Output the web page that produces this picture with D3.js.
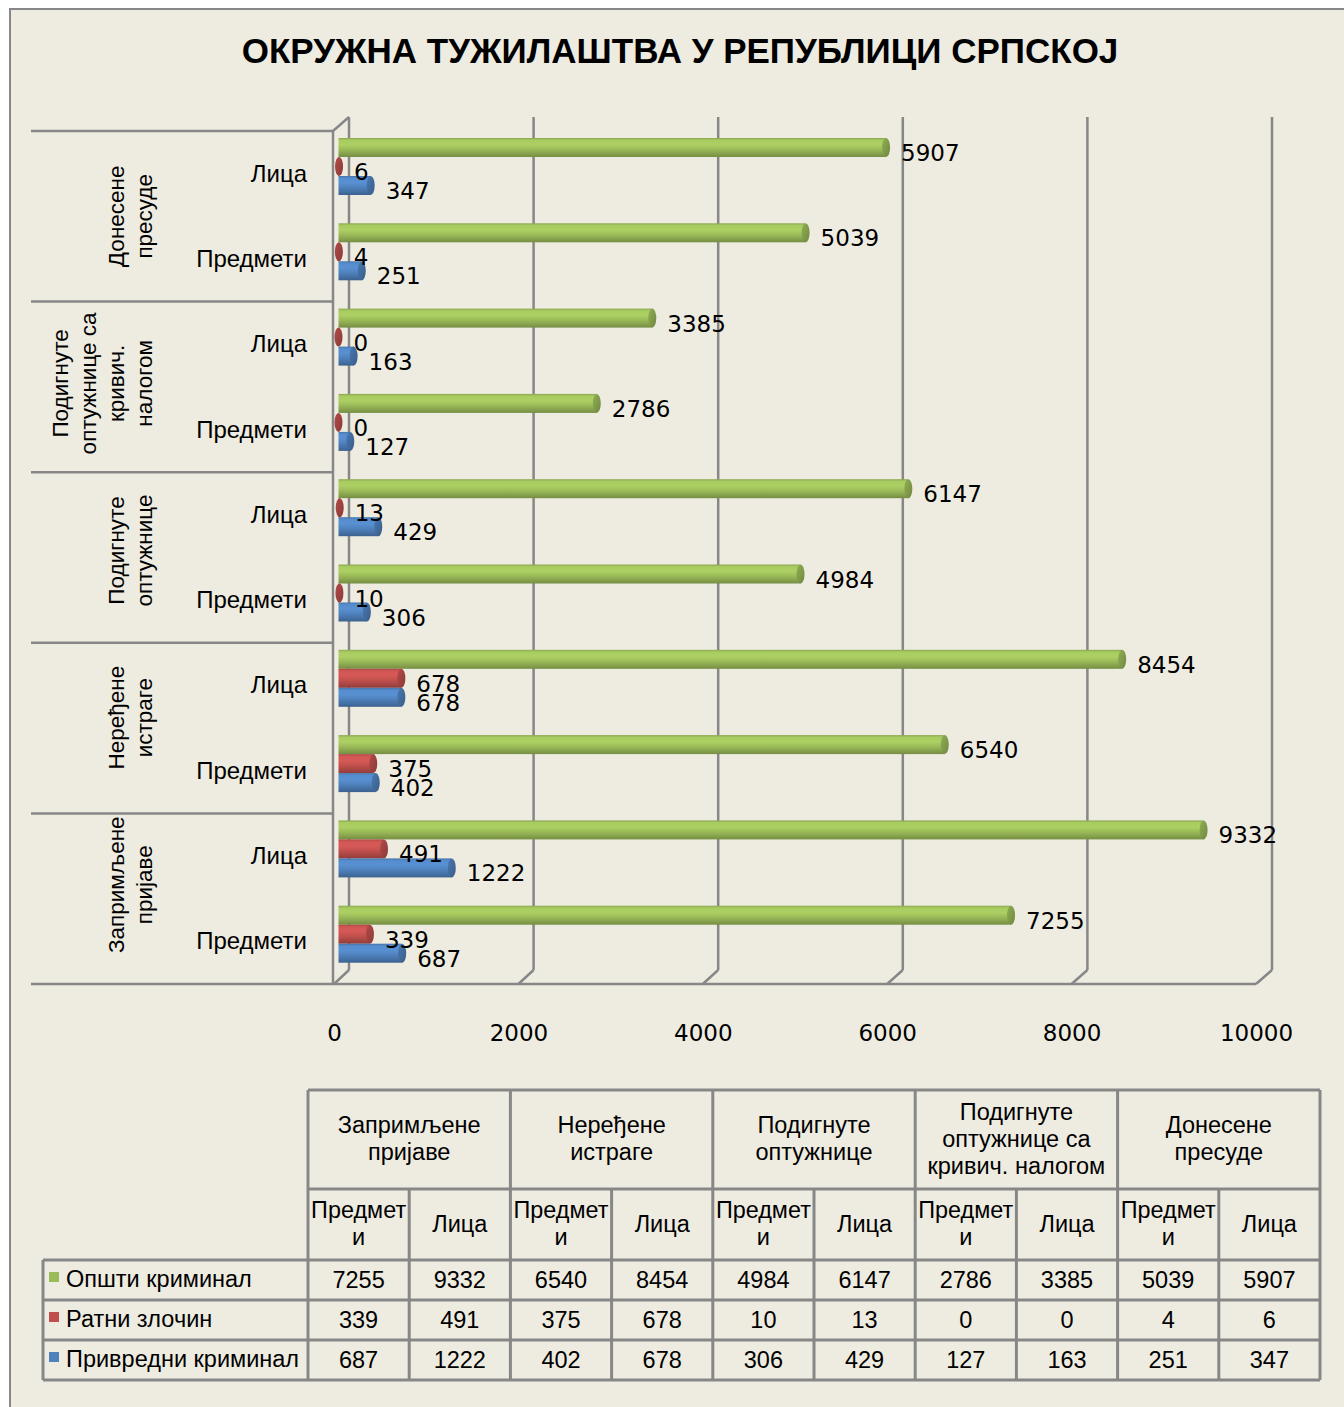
<!DOCTYPE html>
<html><head><meta charset="utf-8">
<script src="https://cdn.jsdelivr.net/npm/d3@7"></script>
<style>
html,body{margin:0;padding:0;background:#fff;}
svg{display:block;}
</style>
</head><body>
<svg id="c" width="1344" height="1407"></svg>
<script>
// ---------- DATA ----------
const title = "ОКРУЖНА ТУЖИЛАШТВА У РЕПУБЛИЦИ СРПСКОЈ";
const groups = ["Запримљене пријаве", "Неређене истраге", "Подигнуте оптужнице", "Подигнуте оптужнице са кривич. налогом", "Донесене пресуде"];
const groupAxisLines = [["Запримљене","пријаве"],["Неређене","истраге"],["Подигнуте","оптужнице"],["Подигнуте","оптужнице са","кривич.","налогом"],["Донесене","пресуде"]];
const groupTableLines = [["Запримљене","пријаве"],["Неређене","истраге"],["Подигнуте","оптужнице"],["Подигнуте","оптужнице са","кривич. налогом"],["Донесене","пресуде"]];
const subs = ["Предмети","Лица"];
const subTableLines = [["Предмет","и"],["Лица"]];
const seriesNames = ["Општи криминал","Ратни злочин","Привредни криминал"];
const opsti     = [7255, 9332, 6540, 8454, 4984, 6147, 2786, 3385, 5039, 5907];
const ratni     = [339, 491, 375, 678, 10, 13, 0, 0, 4, 6];
const privredni = [687, 1222, 402, 678, 306, 429, 127, 163, 251, 347];
const xTicks = [0, 2000, 4000, 6000, 8000, 10000];
const seriesColors = ["#9BBB59","#C0504D","#4F81BD"];

// ---------- SETUP ----------
const svg = d3.select("#c");
const W = 1344, H = 1407;
const bg = "#EEECE1", grid = "#878787";
const seriesData = [opsti, ratni, privredni];

svg.append("rect").attr("width",W).attr("height",H).attr("fill","#fff");
svg.append("rect").attr("x",10).attr("y",9).attr("width",W).attr("height",H)
  .attr("fill",bg).attr("stroke",grid).attr("stroke-width",2);

// title
svg.append("text").attr("x",680).attr("y",63).attr("text-anchor","middle")
  .attr("font-family","Liberation Sans, Arial, sans-serif").attr("font-weight","bold")
  .attr("font-size",35).attr("fill","#000").text(title);

// scales
const xFront = d3.scaleLinear().domain([0,10000]).range([334,1256]);
const xBack  = d3.scaleLinear().domain([0,10000]).range([349,1272]);
const xBar   = d3.scaleLinear().domain([0,10000]).range([338.5,1265.5]);
const rows = d3.range(groups.length*subs.length);
const yRow = d3.scaleBand().domain(rows).range([984,131]);
const ySer = d3.scaleBand().domain(d3.range(3)).range([7,64]);
const yGroup = d3.scaleBand().domain(d3.range(groups.length)).range([984,131]);

const floorY = 984, depthY = 14, topBack = 117;

// gridlines (back wall)
const gl = svg.append("g").attr("stroke",grid).attr("stroke-width",2.5).attr("fill","none");
xTicks.forEach(t=>{
  gl.append("line").attr("x1",xBack(t)).attr("x2",xBack(t)).attr("y1",topBack).attr("y2",floorY-depthY);
  gl.append("line").attr("x1",xFront(t)).attr("y1",floorY).attr("x2",xBack(t)).attr("y2",floorY-depthY);
});
// left axis frame
gl.append("line").attr("x1",333).attr("x2",333).attr("y1",131).attr("y2",floorY);
gl.append("line").attr("x1",333).attr("y1",131).attr("x2",xBack(0)).attr("y2",topBack);
d3.range(groups.length+1).forEach(i=>{
  const y = i===0 ? floorY : yGroup(i-1);
  gl.append("line").attr("x1",31).attr("x2",i===0?xFront(10000):333).attr("y1",y).attr("y2",y);
});

// gradients
const defs = svg.append("defs");
function shade(c,k){ return d3.color(c).darker(k).formatHex(); }
function light(c,k){ return d3.color(c).brighter(k).formatHex(); }
seriesColors.forEach((c,i)=>{
  const g = defs.append("linearGradient").attr("id","g"+i).attr("x1",0).attr("y1",0).attr("x2",0).attr("y2",1);
  [[0,shade(c,0.3)],[0.12,light(c,0.25)],[0.35,light(c,0.3)],[0.6,c],[0.85,shade(c,0.45)],[1,shade(c,0.8)]]
    .forEach(([o,col])=>g.append("stop").attr("offset",o).attr("stop-color",col));
  const g2 = defs.append("linearGradient").attr("id","c"+i).attr("x1",0).attr("y1",0).attr("x2",1).attr("y2",1);
  [[0,shade(c,0.2)],[1,shade(c,0.9)]].forEach(([o,col])=>g2.append("stop").attr("offset",o).attr("stop-color",col));
});

// bars
const barsG = svg.append("g");
const labelsG = svg.append("g").attr("font-family","DejaVu Sans, sans-serif").attr("font-size",23).attr("fill","#000");
rows.forEach(r=>{
  seriesData.forEach((arr,s)=>{
    const v = arr[r];
    const y0 = yRow(r) + ySer(s);
    const h = ySer.bandwidth();
    const x0 = xBar(0), x1 = xBar(v);
    const rx = 4;
    barsG.append("rect").attr("x",x0).attr("y",y0).attr("width",Math.max(0,x1-x0)).attr("height",h)
      .attr("fill","url(#g"+s+")");
    barsG.append("ellipse").attr("cx",x1).attr("cy",y0+h/2).attr("rx",rx).attr("ry",h/2)
      .attr("fill","url(#c"+s+")");
    labelsG.append("text").attr("x",x1+rx+11).attr("y",y0+h/2+13.5).text(v);
  });
});

// category labels
const catG = svg.append("g").attr("font-family","Liberation Sans, Arial, sans-serif").attr("fill","#000");
rows.forEach(r=>{
  catG.append("text").attr("x",307).attr("y",yRow(r)+yRow.bandwidth()/2+8).attr("text-anchor","end")
    .attr("font-size",24).text(subs[r%2]);
});
groupAxisLines.forEach((lines,g)=>{
  const cy = yGroup(g)+yGroup.bandwidth()/2 - 3.5*(groups.length-1-g);
  const n = lines.length;
  lines.forEach((ln,i)=>{
    const bx = 152 - (n-1-i)*28;
    catG.append("text").attr("transform",`translate(${bx},${cy}) rotate(-90)`).attr("text-anchor","middle")
      .attr("font-size",22.5).text(ln);
  });
});

// x axis labels
const axisG = svg.append("g").attr("transform","translate(0,1041)")
  .call(d3.axisBottom(xFront).tickValues(xTicks).tickSize(0).tickFormat(d3.format("d")));
axisG.select(".domain").remove();
axisG.selectAll("text").attr("y",0).attr("dy",0).attr("font-family","DejaVu Sans, sans-serif").attr("font-size",23).attr("fill","#000");

// ---------- TABLE ----------
const tG = svg.append("g").attr("font-family","Liberation Sans, Arial, sans-serif").attr("font-size",23.5).attr("fill","#000");
const colX = d3.scaleBand().domain(rows).range([308,1320]);
const tableLeft = 43, tableRight = 1320;
const hdr1 = [1090,1189], hdr2 = [1189,1260];
const dataRowY = d3.scaleBand().domain(d3.range(3)).range([1260,1380]);
const tl = svg.append("g").attr("stroke",grid).attr("stroke-width",3).attr("fill","none");
tl.append("line").attr("x1",308).attr("x2",tableRight).attr("y1",hdr1[0]).attr("y2",hdr1[0]);
tl.append("line").attr("x1",308).attr("x2",tableRight).attr("y1",hdr1[1]).attr("y2",hdr1[1]);
[0,1,2,3].forEach(i=>{
  const y = i<3 ? dataRowY(i) : 1380;
  tl.append("line").attr("x1",tableLeft).attr("x2",tableRight).attr("y1",y).attr("y2",y);
});
tl.append("line").attr("x1",tableLeft).attr("x2",tableLeft).attr("y1",1260).attr("y2",1380);
rows.forEach(r=>{
  const x = colX(r);
  const top = (r%2===0) ? hdr1[0] : hdr1[1];
  tl.append("line").attr("x1",x).attr("x2",x).attr("y1",top).attr("y2",1380);
});
tl.append("line").attr("x1",tableRight).attr("x2",tableRight).attr("y1",hdr1[0]).attr("y2",1380);

// header text
groupTableLines.forEach((lines,g)=>{
  const cx = colX(g*2) + colX.bandwidth();
  const cy = (hdr1[0]+hdr1[1])/2;
  const n = lines.length;
  lines.forEach((ln,i)=>{
    tG.append("text").attr("x",cx).attr("y",cy + (i-(n-1)/2)*27 + 7).attr("text-anchor","middle").text(ln);
  });
});
rows.forEach(r=>{
  const lines = subTableLines[r%2];
  const cx = colX(r)+colX.bandwidth()/2;
  const cy = (hdr2[0]+hdr2[1])/2;
  const n = lines.length;
  lines.forEach((ln,i)=>{
    tG.append("text").attr("x",cx).attr("y",cy + (i-(n-1)/2)*27 + 7).attr("text-anchor","middle")
      .attr("textLength", ln.length>4 ? 95 : null).attr("lengthAdjust","spacingAndGlyphs").text(ln);
  });
});
// data rows
seriesData.forEach((arr,s)=>{
  const cy = dataRowY(s)+dataRowY.bandwidth()/2;
  svg.append("rect").attr("x",49).attr("y",cy-8).attr("width",10).attr("height",10).attr("fill",seriesColors[s]);
  tG.append("text").attr("x",66).attr("y",cy+7).text(seriesNames[s]);
  arr.forEach((v,r)=>{
    tG.append("text").attr("x",colX(r)+colX.bandwidth()/2).attr("y",cy+8).attr("text-anchor","middle").text(v);
  });
});
</script>
</body></html>
